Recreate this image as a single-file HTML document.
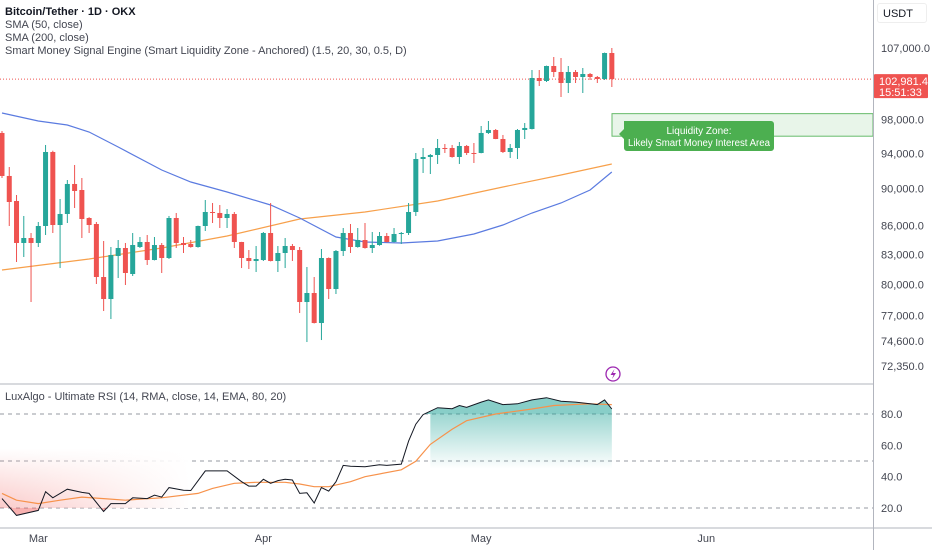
<!DOCTYPE html>
<html><head><meta charset="utf-8">
<style>
html,body{margin:0;padding:0;background:#fff;}
body{width:932px;height:550px;overflow:hidden;font-family:"Liberation Sans",sans-serif;}
svg text{font-family:"Liberation Sans",sans-serif;}
</style></head>
<body>
<svg id="chart" width="932" height="550" viewBox="0 0 932 550" xmlns="http://www.w3.org/2000/svg">
<defs>
<linearGradient id="gGreen" x1="0" y1="0" x2="0" y2="1"><stop offset="0" stop-color="#26a69a" stop-opacity="0.45"/><stop offset="1" stop-color="#26a69a" stop-opacity="0"/></linearGradient>
<linearGradient id="gPink" x1="0" y1="1" x2="0" y2="0"><stop offset="0" stop-color="#ef5350" stop-opacity="0.3"/><stop offset="1" stop-color="#ef5350" stop-opacity="0"/></linearGradient>
<linearGradient id="gPinkH" x1="0" y1="0" x2="1" y2="0"><stop offset="0" stop-color="#fff" stop-opacity="0"/><stop offset="1" stop-color="#fff" stop-opacity="1"/></linearGradient>
<clipPath id="clipAbove"><rect x="0" y="380" width="873" height="34"/></clipPath>
<clipPath id="clipBelow"><rect x="0" y="508" width="873" height="20"/></clipPath>
<clipPath id="clipMain"><rect x="0" y="0" width="873" height="384"/></clipPath>
</defs>
<g id="main" clip-path="url(#clipMain)"></g>
<g id="rsi"></g>
<g id="axes"></g>
</svg>
<script>
const candleOpen=[96381,91416,88645,84183,84701,84183,85961,94153,86066,87240,90520,89852,86810,86172,80733,78577,82847,83665,81032,83768,84286,82438,83974,82642,86810,84183,84080,83768,85961,87454,87348,86810,87240,84286,82642,82337,82438,85223,82337,83153,83871,83459,78288,79160,76291,82642,79549,83357,85223,83768,84492,83665,83974,84910,84286,85119,85223,87454,93345,93575,93806,94617,94617,93575,94851,94037,94037,96381,96735,95670,94153,94617,96735,96854,103124,102744,104657,103888,102492,103888,103251,103632,103251,102997,106344];
const candleHigh=[96617,92432,89302,87026,85223,86384,94968,94300,88863,90964,92660,91190,86900,86384,84389,83768,84492,84183,85223,84806,85014,84806,84183,87026,87348,84806,84492,86000,88753,88427,88210,87776,87454,84300,83459,83871,85328,88427,83871,84701,84080,83768,81733,80733,83562,82700,83459,85749,86172,85749,86278,85328,85328,85223,85749,85328,88427,94037,94617,93921,95670,95084,94968,95318,94968,95201,97212,97812,96854,96144,95084,96854,97571,104143,104143,104700,105822,105692,104657,104143,104400,103760,103378,106400,107000];
const candleLow=[91190,85961,82236,82745,78288,83768,85014,85223,81629,86278,87885,84701,85223,80041,77425,76667,80634,79943,80833,83665,81935,82400,81132,82540,83665,83153,83700,83700,85432,86278,85749,85749,83665,81629,81530,81231,82337,82300,81231,81629,82337,77235,74528,76250,74711,78577,79063,82847,83153,83700,83600,83153,83900,84250,84250,84080,85014,87026,91751,91638,92774,94037,93500,92774,93806,92888,94000,96263,95650,94037,93460,93345,95670,96800,102114,102618,103251,100742,101239,102492,101239,102870,102492,102870,101988];
const candleClose=[91416,88536,84183,84701,84183,85961,94153,86066,87240,90520,89742,86703,86066,80733,78577,82949,83665,81132,83974,84286,82438,83974,82642,86810,84183,83974,83768,85961,87454,87348,86810,87240,84286,82642,82337,82540,85223,82337,83153,83871,83459,78288,79160,76291,82642,79549,83357,85223,83768,84492,83665,83974,84910,84286,85119,85223,87454,93345,93575,93806,94617,94500,93575,94851,94037,93921,96381,96735,95670,94153,94617,96735,96975,103124,102744,104657,103888,102492,103888,103251,103632,103251,102997,106344,102981];
const sma50Idx=[0,5,9,12,16,22,26,31,37,41,46,50,55,60,65,69,73,77,81,84];
const sma50Val=[98780,97812,97333,96499,94734,92090,90742,89632,88210,86810,84806,84286,84183,84389,85119,86066,87348,88427,89852,91864];
const sma200Idx=[0,12,22,31,41,50,60,69,77,84];
const sma200Val=[81430,82540,83665,84910,86703,87454,88645,90185,91527,92774];
const priceTicks=[107000,98000,94000,90000,86000,83000,80000,77000,74600,72350];
const rsiIdx=[0,2,5,6,7,9,11,12,14,15,17,18,20,21,22,23,25,26,28,29,31,33,34,35,36,37,38,39,40,41,42,43,44,45,46,47,48,50,52,53,55,56,57,58,60,62,63,64,66,67,69,71,73,75,77,79,81,82,83,84];
const rsiVal=[26,15.3,18.5,30.4,26.5,32,30,29.3,17.8,22.8,22.8,26.5,26,28.2,27,33,31.4,31.2,43.7,43.7,43.7,36.8,34,34,38.3,35.8,37.5,38.3,37.9,29.3,29.7,23.2,33,30.8,36.8,47.2,46.6,46.3,47.6,47.2,48,62.7,73.5,79.6,84,83.4,85.4,84.3,87.6,89,86,86.5,89,90.4,88.2,87.6,86.5,86,89,83.2];
const sigIdx=[0,2,5,8,11,14,17,19,22,27,29,32,35,39,41,43,45,48,50,55,57,59,62,64,68,73,76,81,84];
const sigVal=[29.3,25,22.8,25,27,26,25,25.6,26.5,29.3,32.5,35.8,36.4,36.4,35.3,33.6,33.6,36.8,40,44.4,49.8,60.6,70.3,75.7,80,83.2,85.4,86.5,86];
const rsiTicks=[80,60,40,20];
const monthLabels=["Mar","Apr","May","Jun"];
const monthIdx=[5,36,66,97];
const lastPrice=102981.4;
const zoneTop=98700, zoneBottom=96000;

const NS="http://www.w3.org/2000/svg";
const X=i=>2+i*7.26;
const LN0=Math.log(107000);
const YP=p=>48+(LN0-Math.log(p))*813;
const YR=v=>414+(80-v)*1.567;
function mk(tag,attrs,parent){const e=document.createElementNS(NS,tag);for(const k in attrs)e.setAttribute(k,attrs[k]);parent.appendChild(e);return e;}
const main=document.getElementById('main'),rsi=document.getElementById('rsi'),axes=document.getElementById('axes');

let pl=mk('line',{x1:0,x2:873,y1:YP(lastPrice),y2:YP(lastPrice),stroke:'#ef5350','stroke-width':1,'stroke-dasharray':'1 2'},main);



let zone=mk('rect',{x:612,y:YP(zoneTop),width:261,height:YP(zoneBottom)-YP(zoneTop),fill:'#e8f5e9',stroke:'#66bb6a','stroke-width':1},main);



function linePath(idx,vals,yf){return idx.map((i,k)=>(k?'L':'M')+X(i).toFixed(1)+' '+yf(vals[k]).toFixed(1)).join(' ');}
let s200=mk('path',{d:linePath(sma200Idx,sma200Val,YP),fill:'none',stroke:'#f7a04b','stroke-width':1.2},main);


let s50=mk('path',{d:linePath(sma50Idx,sma50Val,YP),fill:'none',stroke:'#5b7be0','stroke-width':1.2},main);



for(let i=0;i<candleOpen.length;i++){
  const o=candleOpen[i],c=candleClose[i],h=candleHigh[i],l=candleLow[i];
  const col=c>=o?'#26a69a':'#ef5350';
  const g=mk('g',{},main);
  
  
  const x=X(i);
  mk('line',{x1:x,x2:x,y1:YP(h),y2:YP(l),stroke:col,'stroke-width':1},g);
  const yt=YP(Math.max(o,c)),yb=YP(Math.min(o,c));
  mk('rect',{x:x-2.5,y:yt,width:5,height:Math.max(1,yb-yt),fill:col},g);
}

const lg=mk('g',{},main);


mk('path',{d:'M624 121 H771 a3 3 0 0 1 3 3 V148 a3 3 0 0 1 -3 3 H627 a3 3 0 0 1 -3 -3 V139 L619 134 L624 129 Z',fill:'#4caf50'},lg);
let t1=mk('text',{x:699,y:134,'text-anchor':'middle','font-size':10,fill:'#fff'},lg);t1.textContent='Liquidity Zone:';
let t2=mk('text',{x:699,y:146,'text-anchor':'middle','font-size':10,fill:'#fff',textLength:142,lengthAdjust:'spacingAndGlyphs'},lg);t2.textContent='Likely Smart Money Interest Area';

const li=mk('g',{},axes);


mk('circle',{cx:613,cy:374,r:7,fill:'#fff',stroke:'#9c27b0','stroke-width':1.3},li);
mk('path',{d:'M614.5 369 L610.5 375 H613.5 L612 379 L616 373 H613 Z',fill:'#9c27b0'},li);

const lvl=[80,50,20];
lvl.forEach(v=>{let d=mk('line',{x1:0,x2:873,y1:YR(v),y2:YR(v),stroke:'#9598a1','stroke-width':1,'stroke-dasharray':'4 4'},rsi);

});
let ob=rsiIdx.filter((i,k)=>rsiVal[k]>=80);
if(ob.length){let gx=X(ob[0]-1),gw=X(rsiIdx[rsiIdx.length-1])-gx;
 let gr=mk('rect',{x:gx,y:YR(80),width:gw,height:YR(45)-YR(80),fill:'url(#gGreen)'},rsi);
 
 }
let pr=mk('rect',{x:0,y:YR(58),width:190,height:YR(20)-YR(58),fill:'url(#gPink)'},rsi);


let pr2=mk('rect',{x:0,y:YR(58),width:190,height:YR(20)-YR(58),fill:'url(#gPinkH)'},rsi);


const rp=linePath(rsiIdx,rsiVal,YR);
const x0=X(rsiIdx[0]),x1=X(rsiIdx[rsiIdx.length-1]);
let fa=mk('path',{d:rp+` L${x1} ${YR(80)} L${x0} ${YR(80)} Z`,fill:'#26a69a','fill-opacity':0.55,'clip-path':'url(#clipAbove)'},rsi);


let fb=mk('path',{d:rp+` L${x1} ${YR(20)} L${x0} ${YR(20)} Z`,fill:'#ef5350','fill-opacity':0.45,'clip-path':'url(#clipBelow)'},rsi);


let sg=mk('path',{d:linePath(sigIdx,sigVal,YR),fill:'none',stroke:'#f7924b','stroke-width':1.2},rsi);


let rl=mk('path',{d:rp,fill:'none',stroke:'#131722','stroke-width':1},rsi);



[[0,873,384,384],[0,932,528,528]].forEach(a=>{let l=mk('line',{x1:a[0],x2:a[1],y1:a[2],y2:a[3],stroke:'#b2b5be','stroke-width':1},axes);

});
let va=mk('line',{x1:873.5,x2:873.5,y1:0,y2:550,stroke:'#b2b5be','stroke-width':1},axes);



priceTicks.forEach(p=>{let t=mk('text',{x:881,y:YP(p)+4,'font-size':11,fill:'#434651'},axes);
t.textContent=p.toLocaleString('en-US',{minimumFractionDigits:1,maximumFractionDigits:1});

});
rsiTicks.forEach(v=>{let t=mk('text',{x:881,y:YR(v)+4,'font-size':11,fill:'#434651'},axes);
t.textContent=v.toFixed(1);

});
monthLabels.forEach((m,k)=>{let t=mk('text',{x:X(monthIdx[k]),y:542,'font-size':11,fill:'#434651','text-anchor':'middle'},axes);
t.textContent=m;

});

const lp=mk('g',{},axes);


const ly=YP(lastPrice);
mk('rect',{x:874,y:ly-5,width:54,height:24,fill:'#ef5350',rx:1},lp);
let a1=mk('text',{x:879,y:ly+6,'font-size':11,fill:'#fff'},lp);a1.textContent=lastPrice.toLocaleString('en-US',{minimumFractionDigits:1});
let a2=mk('text',{x:879,y:ly+17,'font-size':11,fill:'#fff'},lp);a2.textContent='15:51:33';
</script>
<div style="position:absolute;left:877px;top:3px;width:50px;height:20px;border:1px solid #eee;border-radius:3px;background:#fff;font-size:11px;color:#131722;line-height:20px;padding-left:5px;box-sizing:border-box;">USDT</div>
<div style="position:absolute;left:5px;top:6px;font-size:11px;color:#434651;line-height:13px;">
<div style="font-weight:bold;color:#131722;">Bitcoin/Tether · 1D · OKX</div>
<div>SMA (50, close)</div>
<div>SMA (200, close)</div>
<div>Smart Money Signal Engine (Smart Liquidity Zone - Anchored) (1.5, 20, 30, 0.5, D)</div>
</div>
<div style="position:absolute;left:5px;top:391px;font-size:11px;color:#434651;">LuxAlgo - Ultimate RSI (14, RMA, close, 14, EMA, 80, 20)</div>
</body></html>
